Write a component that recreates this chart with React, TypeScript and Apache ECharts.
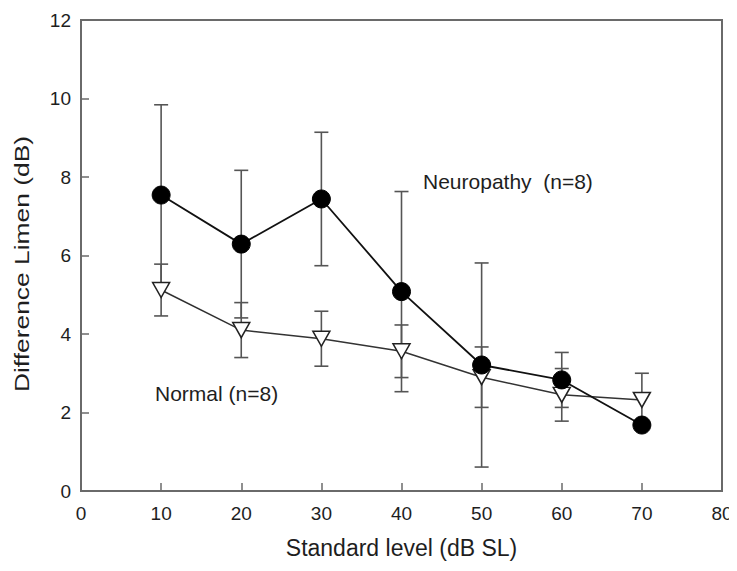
import React, { useEffect, useRef } from "react";
import * as echarts from "echarts";

const levels = [10, 20, 30, 40, 50, 60, 70];
const neuropathyMean = [7.54, 6.29, 7.44, 5.08, 3.21, 2.83, 1.68];
const neuropathyErr = [2.3, 1.88, 1.7, 2.55, 2.6, 0.7, 0.1];
const normalMean = [5.12, 4.1, 3.88, 3.56, 2.9, 2.45, 2.32];
const normalErr = [0.66, 0.7, 0.7, 0.67, 0.77, 0.67, 0.68];
const yTicks = [0, 2, 4, 6, 8, 10, 12];
const xTicks = [0, 10, 20, 30, 40, 50, 60, 70, 80];

const FONT = "Liberation Sans, Arial, sans-serif";
const AXIS = "#6a6a6a";
const TEXT = "#1e1e1e";

function errData(means: number[], errs: number[]) {
  return levels.map((x, i) => [x, means[i] - errs[i], means[i] + errs[i]]);
}

function errorRender(params: any, api: any) {
  const x = api.value(0);
  const lo = api.coord([x, api.value(1)]);
  const hi = api.coord([x, api.value(2)]);
  const w = 7;
  const style = { stroke: "#555", lineWidth: 1.6 };
  return {
    type: "group",
    children: [
      { type: "line", shape: { x1: lo[0], y1: lo[1], x2: hi[0], y2: hi[1] }, style },
      { type: "line", shape: { x1: hi[0] - w, y1: hi[1], x2: hi[0] + w, y2: hi[1] }, style },
      { type: "line", shape: { x1: lo[0] - w, y1: lo[1], x2: lo[0] + w, y2: lo[1] }, style },
    ],
  };
}

export default function App() {
  const ref = useRef<HTMLDivElement>(null);
  useEffect(() => {
    if (!ref.current) return;
    const chart = echarts.init(ref.current, undefined, { renderer: "svg" });
    chart.setOption({
      animation: false,
      backgroundColor: "#fff",
      grid: {
        left: 81,
        right: 15,
        top: 20,
        bottom: 80,
        show: true,
        borderColor: AXIS,
        borderWidth: 2,
      },
      xAxis: {
        type: "value",
        min: 0,
        max: 80,
        interval: 10,
        name: "Standard level (dB SL)",
        nameLocation: "middle",
        nameGap: 45,
        nameTextStyle: { fontFamily: FONT, fontSize: 23, color: TEXT },
        axisLine: { show: true, lineStyle: { color: AXIS, width: 2 } },
        axisTick: { show: true, inside: true, length: 8, lineStyle: { color: AXIS, width: 1.5 } },
        axisLabel: {
          fontFamily: FONT,
          fontSize: 19,
          color: TEXT,
          margin: 13,
          formatter: (v: number) => (xTicks.includes(v) ? String(v) : ""),
        },
        splitLine: { show: false },
      },
      yAxis: {
        type: "value",
        min: 0,
        max: 12,
        interval: 2,
        axisLine: { show: true, lineStyle: { color: AXIS, width: 2 } },
        axisTick: { show: true, inside: true, length: 8, lineStyle: { color: AXIS, width: 1.5 } },
        axisLabel: {
          fontFamily: FONT,
          fontSize: 19,
          color: TEXT,
          margin: 10,
          formatter: (v: number) => (yTicks.includes(v) ? String(v) : ""),
        },
        splitLine: { show: false },
      },
      series: [
        {
          type: "custom",
          name: "neuroErr",
          renderItem: errorRender,
          data: errData(neuropathyMean, neuropathyErr),
          encode: { x: 0, y: [1, 2] },
          z: 1,
        },
        {
          type: "custom",
          name: "normalErr",
          renderItem: errorRender,
          data: errData(normalMean, normalErr),
          encode: { x: 0, y: [1, 2] },
          z: 1,
        },
        {
          type: "line",
          name: "Normal",
          data: levels.map((x, i) => [x, normalMean[i]]),
          symbol: "triangle",
          symbolRotate: 180,
          symbolSize: [17, 15],
          lineStyle: { color: "#333", width: 1.5 },
          itemStyle: { color: "#fff", borderColor: "#222", borderWidth: 1.5 },
          z: 3,
        },
        {
          type: "line",
          name: "Neuropathy",
          data: levels.map((x, i) => [x, neuropathyMean[i]]),
          symbol: "circle",
          symbolSize: 18,
          lineStyle: { color: "#111", width: 1.8 },
          itemStyle: { color: "#000", borderColor: "#000", borderWidth: 1 },
          z: 4,
        },
      ],
      graphic: [
        {
          type: "text",
          x: 22,
          y: 264,
          rotation: Math.PI / 2,
          scaleX: 1.32,
          style: {
            text: "Difference Limen (dB)",
            fontFamily: FONT,
            fontSize: 20,
            fill: TEXT,
            textAlign: "center",
            textVerticalAlign: "middle",
          },
        },
        {
          type: "text",
          x: 423,
          y: 181,
          style: {
            text: "Neuropathy  (n=8)",
            fontFamily: FONT,
            fontSize: 21,
            fill: TEXT,
            textAlign: "left",
            textVerticalAlign: "middle",
          },
        },
        {
          type: "text",
          x: 155,
          y: 393,
          style: {
            text: "Normal (n=8)",
            fontFamily: FONT,
            fontSize: 21,
            fill: TEXT,
            textAlign: "left",
            textVerticalAlign: "middle",
          },
        },
      ],
    });
    return () => chart.dispose();
  }, []);
  return <div ref={ref} style={{ width: 737, height: 571, margin: -8 }} />;
}
